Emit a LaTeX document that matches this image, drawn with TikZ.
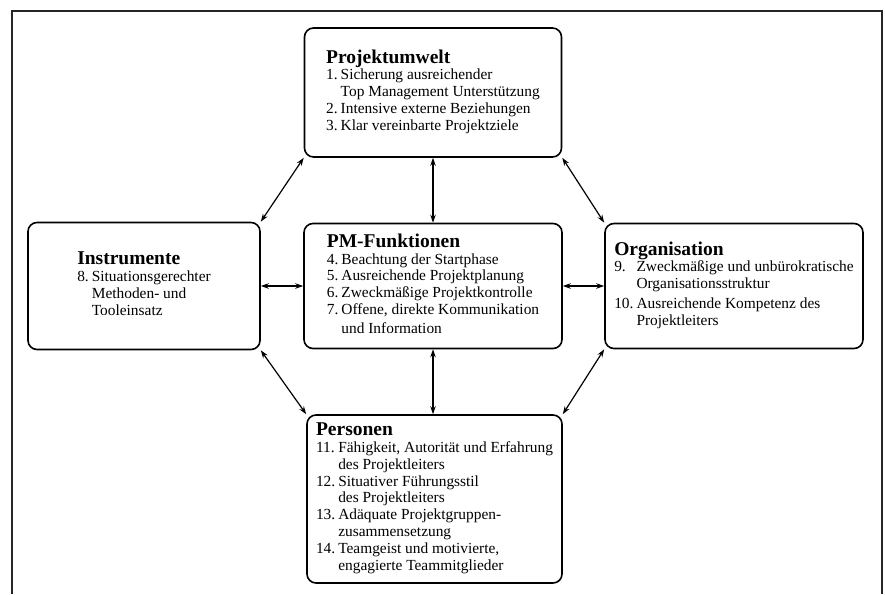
\documentclass[tikz,border=0pt]{standalone}
\usepackage{fontspec}
\setmainfont{Liberation Serif}
\usetikzlibrary{arrows.meta, positioning}

\newcommand{\body}{\fontsize{15.4}{16.8}\selectfont}
\newcommand{\hd}[1]{\multicolumn{2}{@{}l@{}}{\fontsize{19.5}{21}\selectfont\bfseries #1}}

\begin{document}
\begin{tikzpicture}[x=1pt, y=-1pt,
    n/.style={rectangle, draw, rounded corners=9pt, line width=1.6pt, align=left, font=\body, inner sep=0pt},
    a/.style={{Stealth[length=8pt,width=5.5pt]}-{Stealth[length=8pt,width=5.5pt]}, line width=1.2pt},
]
\useasboundingbox (0,0) rectangle (885,594);
% frame, open at the bottom
\draw[line width=1.3pt, black!85] (12,594) -- (12,11) -- (882,11) -- (882,594);

\node[n, minimum width=257pt, minimum height=129pt] (pu) at (433,92.5) {%
  \begin{tabular}{@{}l@{\hspace{3pt}}l@{}}
  \hd{Projektumwelt}\\
  1. & Sicherung ausreichender\\
     & Top Management Unterstützung\\
  2. & Intensive externe Beziehungen\\
  3. & Klar vereinbarte Projektziele
  \end{tabular}};
\node[n, minimum width=232pt, minimum height=127pt] (in) at (144,286) {%
  \begin{tabular}{@{}l@{\hspace{3pt}}l@{}}
  \hd{Instrumente}\\
  8. & Situationsgerechter\\
     & Methoden- und\\
     & Tooleinsatz
  \end{tabular}};
\node[n, minimum width=258pt, minimum height=125pt] (pm) at (433,286) {%
  \begin{tabular}{@{}l@{\hspace{3pt}}l@{}}
  \hd{PM-Funktionen}\\
  4. & Beachtung der Startphase\\
  5. & Ausreichende Projektplanung\\
  6. & Zweckmäßige Projektkontrolle\\
  7. & Offene, direkte Kommunikation\\[2pt]
     & und Information
  \end{tabular}};
\node[n, minimum width=258pt, minimum height=125pt] (org) at (734,286) {%
  \begin{tabular}{@{}l@{\hspace{3pt}}l@{}}
  \hd{Organisation}\\
  9.  & Zweckmäßige und unbürokratische\\
      & Organisationsstruktur\\[3pt]
  10. & Ausreichende Kompetenz des\\
      & Projektleiters
  \end{tabular}};
\node[n, minimum width=255pt, minimum height=168pt] (pe) at (434.5,499) {%
  \begin{tabular}{@{}l@{\hspace{3pt}}l@{}}
  \hd{Personen}\\
  11. & Fähigkeit, Autorität und Erfahrung\\
      & des Projektleiters\\
  12. & Situativer Führungsstil\\
      & des Projektleiters\\
  13. & Adäquate Projektgruppen-\\
      & zusammensetzung\\
  14. & Teamgeist und motivierte,\\
      & engagierte Teammitglieder
  \end{tabular}};

\draw[a] (pu) -- (pm);
\draw[a] (pm) -- (pe.north -| pm.south);
\draw[a] (in) -- (pm);
\draw[a] (pm) -- (org);
\draw[a] (pu.south west) -- (in.north east);
\draw[a] (pu.south east) -- (org.north west);
\draw[a] (in.south east) -- (pe.north west);
\draw[a] (org.south west) -- (pe.north east);
\end{tikzpicture}
\end{document}
